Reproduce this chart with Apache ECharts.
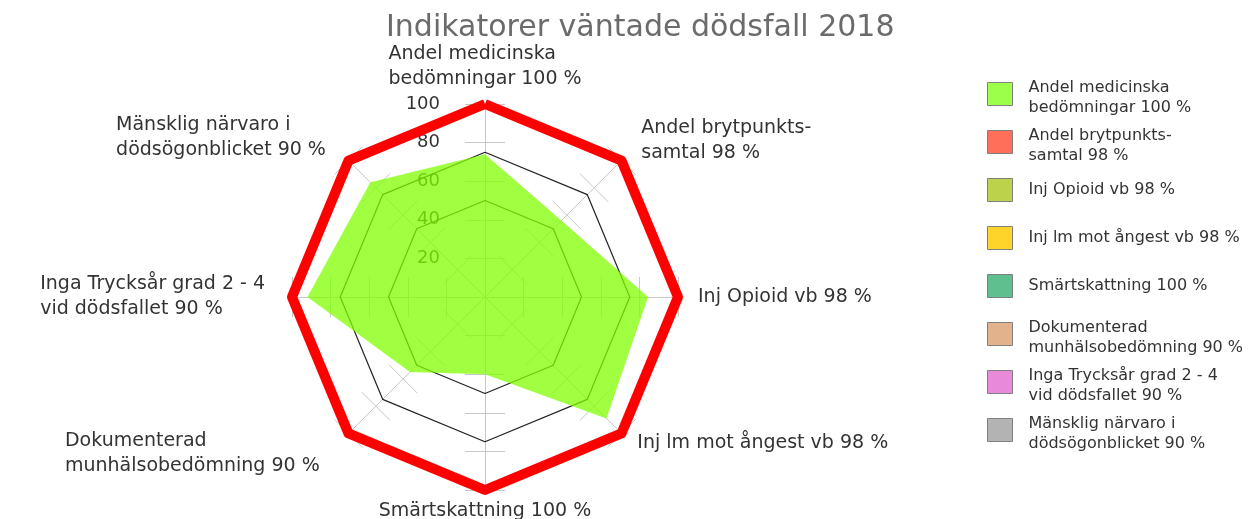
<!DOCTYPE html>
<html>
<head>
<meta charset="utf-8">
<script src="https://cdn.jsdelivr.net/npm/echarts@6/dist/echarts.min.js"></script>
<style>
    html, body { margin: 0; padding: 0; background: #fff; }
    #chart { width: 1250px; height: 519px; }
</style>
</head>
<body>
<div id="chart"></div>
<script>
    // axlar, moturs fran toppen (echarts ritar radarn moturs)
    var axisNames = [
        'Andel medicinska\nbedömningar 100 %',
        'Mänsklig närvaro i\ndödsögonblicket 90 %',
        'Inga Trycksår grad 2 - 4\nvid dödsfallet 90 %',
        'Dokumenterad\nmunhälsobedömning 90 %',
        'Smärtskattning 100 %',
        'Inj lm mot ångest vb 98 %',
        'Inj Opioid vb 98 %',
        'Andel brytpunkts-\nsamtal 98 %'
    ];
    var nameGaps = [12, 32, 27, 28, 9, 14, 20, 28];
    var namePads = [0, 0, 0, [0, 9, 0, 0], 0, [0, 0, 0, 6], 0, 0];

    var targetValues = [100, 100, 100, 100, 100, 100, 100, 100];
    var upperLimit = [75, 75, 75, 75, 75, 75, 75, 75];
    var lowerLimit = [50, 50, 50, 50, 50, 50, 50, 50];
    var resultValues = [74, 84, 92, 55, 40, 89, 84.5, 56];

    var legendNames = [
        'Andel medicinska\nbedömningar 100 %',
        'Andel brytpunkts-\nsamtal 98 %',
        'Inj Opioid vb 98 %',
        'Inj lm mot ångest vb 98 %',
        'Smärtskattning 100 %',
        'Dokumenterad\nmunhälsobedömning 90 %',
        'Inga Trycksår grad 2 - 4\nvid dödsfallet 90 %',
        'Mänsklig närvaro i\ndödsögonblicket 90 %'
    ];
    var legendColors = ['#9cff4a', '#ff6f5a', '#bcd24a', '#ffd42a', '#5fbf8f', '#e2b28c', '#e88ad8', '#b3b3b3'];

    var font = 'DejaVu Sans';
    var chart = echarts.init(document.getElementById('chart'));

    var indicators = axisNames.map(function (n, i) {
        return {
            name: n, max: 100, min: 0, nameGap: nameGaps[i],
            axisLabel: { show: i === 0 }
        };
    });
    var indicators2 = axisNames.map(function (n) {
        return { name: n, max: 100, min: 0 };
    });

    var nameRich = {};
    namePads.forEach(function (p, i) {
        nameRich['a' + i] = { align: 'left', fontFamily: font, fontSize: 19, color: '#333', lineHeight: 25, padding: p };
    });

    var option = {
        animation: false,
        backgroundColor: '#fff',
        title: {
            text: 'Indikatorer väntade dödsfall 2018',
            left: 381, top: 8,
            textStyle: { fontFamily: font, fontSize: 30, fontWeight: 'normal', color: '#6b6b6b' }
        },
        legend: {
            orient: 'vertical',
            left: 987, top: 70, padding: 0,
            itemWidth: 25, itemHeight: 23, itemGap: 0,
            icon: 'rect',
            itemStyle: { borderColor: '#808080', borderWidth: 1 },
            formatter: function (n) {
                var lines = n.split('\n');
                if (lines.length === 1) return '{t|' + n + '}';
                return '{e|}\n' + lines.map(function (l) { return '{t|' + l + '}'; }).join('\n');
            },
            textStyle: {
                fontFamily: font, fontSize: 16, color: '#333',
                backgroundColor: 'rgba(0,0,0,0)',
                rich: {
                    t: { fontFamily: font, fontSize: 16, color: '#333', lineHeight: 20 },
                    e: { fontSize: 1, lineHeight: 8 }
                }
            },
            data: legendNames.map(function (n) {
                var two = n.indexOf('\n') >= 0;
                return { name: n, textStyle: { padding: two ? [0, 0, 0, 11] : [14, 0, 14, 11] } };
            })
        },
        radar: [{
            center: [485, 297], radius: 193,
            shape: 'polygon', splitNumber: 5,
            indicator: indicators,
            axisName: {
                color: '#333', fontFamily: font, fontSize: 19,
                formatter: function (v) {
                    var k = 'a' + axisNames.indexOf(v);
                    return v.split('\n').map(function (l) { return '{' + k + '|' + l + '}'; }).join('\n');
                },
                rich: nameRich
            },
            axisLine: { lineStyle: { color: '#c8c8c8', width: 1 } },
            axisTick: { show: true, length: 20, lineStyle: { color: '#c8c8c8', width: 1 } },
            axisLabel: { show: false, showMinLabel: false, margin: 45, color: '#333', fontFamily: font, fontSize: 18 },
            splitLine: { show: false },
            splitArea: { show: false }
        }, {
            center: [485, 297], radius: 193,
            shape: 'polygon', splitNumber: 5,
            indicator: indicators2,
            axisName: { show: false },
            axisLine: { show: false },
            axisTick: { show: true, length: -20, lineStyle: { color: '#c8c8c8', width: 1 } },
            axisLabel: { show: false },
            splitLine: { show: false },
            splitArea: { show: false }
        }],
        series: [{
            type: 'radar',
            radarIndex: 0,
            symbol: 'none',
            silent: true,
            data: [
                { name: 'Mål', value: targetValues, lineStyle: { color: '#ff0000', width: 10 } },
                { name: 'Övre gräns', value: upperLimit, lineStyle: { color: '#222', width: 1.2 } },
                { name: 'Undre gräns', value: lowerLimit, lineStyle: { color: '#222', width: 1.2 } },
                { name: 'Resultat', value: resultValues, lineStyle: { width: 0, opacity: 0 },
                  areaStyle: { color: '#80ff00', opacity: 0.75 } }
            ]
        }, {
            type: 'pie',
            radius: [0, 0],
            center: [485, 297],
            silent: true,
            label: { show: false },
            labelLine: { show: false },
            itemStyle: { borderColor: '#808080', borderWidth: 1 },
            data: legendNames.map(function (n, i) {
                return { name: n, value: 1, itemStyle: { color: legendColors[i] } };
            })
        }]
    };
    chart.setOption(option);
</script>
</body>
</html>
